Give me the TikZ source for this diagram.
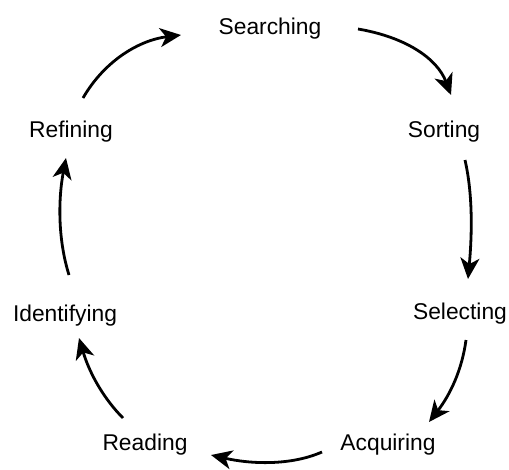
\documentclass[tikz,border=0pt]{standalone}
\usepackage{fontspec}
\setmainfont{Liberation Sans}
\usetikzlibrary{arrows.meta}
\begin{document}
\begin{tikzpicture}[x=1pt,y=-1pt,
  label/.style={font=\fontsize{22.8}{27}\selectfont, inner sep=0pt},
  flow/.style={line width=2.8pt, -{Stealth[length=21pt,width=19pt,inset=6pt]}}]
\useasboundingbox (0,0) rectangle (509,469);
% stages of the cycle
\node[label] (search) at (270,29) {Searching};
\node[label] (sort)   at (444,132) {Sorting};
\node[label] (select) at (460,314) {Selecting};
\node[label] (acq)    at (388,445) {Acquiring};
\node[label] (read)   at (145,445) {Reading};
\node[label] (ident)  at (65,316) {Identifying};
\node[label] (refine) at (71,132) {Refining};
% arrow end points
\coordinate (a1) at (358,29);  \coordinate (b1) at (451,95);
\coordinate (a2) at (465,160); \coordinate (b2) at (468,279);
\coordinate (a3) at (466,340); \coordinate (b3) at (429,422);
\coordinate (a4) at (322,452); \coordinate (b4) at (211,455);
\coordinate (a5) at (123,418); \coordinate (b5) at (79,338);
\coordinate (a6) at (69,275);  \coordinate (b6) at (66,158);
\coordinate (a7) at (83,98);   \coordinate (b7) at (181,35);
% arrows between the stages
\draw[flow] (a1) .. controls (405,37) and (437,58) .. (b1);
\draw[flow] (a2) .. controls (473,195) and (472,235) .. (b2);
\draw[flow] (a3) .. controls (462,370) and (450,395) .. (b3);
\draw[flow] (a4) .. controls (290,466) and (250,464) .. (b4);
\draw[flow] (a5) .. controls (105,400) and (90,375) .. (b5);
\draw[flow] (a6) .. controls (58,240) and (58,200) .. (b6);
\draw[flow] (a7) .. controls (105,60) and (140,40) .. (b7);
\end{tikzpicture}
\end{document}
